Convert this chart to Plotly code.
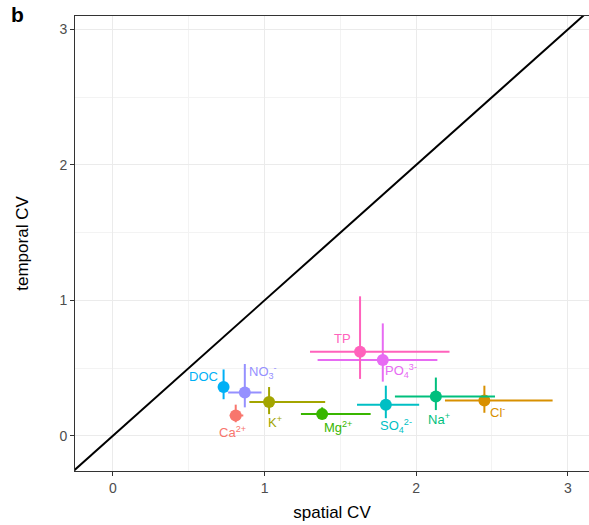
import plotly.graph_objects as go

# Coefficients of variation per solute: spatial (x) vs temporal (y), with ranges
labels = ["Ca<sup>2+</sup>", "Cl<sup>-</sup>", "DOC", "K<sup>+</sup>", "Mg<sup>2+</sup>",
          "Na<sup>+</sup>", "NO<sub>3</sub><sup>-</sup>", "PO<sub>4</sub><sup>3-</sup>",
          "SO<sub>4</sub><sup>2-</sup>", "TP"]
spatial = [0.81, 2.45, 0.73, 1.03, 1.38, 2.13, 0.87, 1.78, 1.80, 1.63]
spatial_lo = [0.77, 2.19, 0.70, 0.90, 1.24, 1.86, 0.76, 1.35, 1.61, 1.30]
spatial_hi = [0.86, 2.90, 0.76, 1.40, 1.70, 2.52, 0.98, 2.14, 2.02, 2.22]
temporal = [0.15, 0.26, 0.36, 0.25, 0.16, 0.29, 0.32, 0.56, 0.23, 0.62]
temporal_lo = [0.10, 0.17, 0.27, 0.16, 0.13, 0.19, 0.21, 0.40, 0.13, 0.42]
temporal_hi = [0.23, 0.37, 0.49, 0.36, 0.21, 0.43, 0.53, 0.83, 0.37, 1.03]
colors = ["#F8766D", "#D89000", "#00B0F6", "#A3A500", "#39B600",
          "#00BF7D", "#9590FF", "#E76BF3", "#00BFC4", "#FF62BC"]

# label offsets in pixels from each point
label_dx = [-3, 13, -20, 6, 16, 3, 18, 18, 10, -18]
label_dy = [-17, -11, 11, -20, -13, -22, 20, -11, -21, 13]

tick_vals = [0, 1, 2, 3]
font_family = "Liberation Sans, Arial, sans-serif"

fig = go.Figure()

# 1:1 reference line
fig.add_trace(go.Scatter(x=[-1, 4], y=[-1, 4], mode="lines",
                         line=dict(color="black", width=2), showlegend=False,
                         hoverinfo="skip"))

for i, lab in enumerate(labels):
    fig.add_trace(go.Scatter(
        x=[spatial[i]], y=[temporal[i]], mode="markers",
        marker=dict(color=colors[i], size=12),
        error_x=dict(type="data", symmetric=False,
                     array=[spatial_hi[i] - spatial[i]],
                     arrayminus=[spatial[i] - spatial_lo[i]],
                     color=colors[i], thickness=2, width=0),
        error_y=dict(type="data", symmetric=False,
                     array=[temporal_hi[i] - temporal[i]],
                     arrayminus=[temporal[i] - temporal_lo[i]],
                     color=colors[i], thickness=2, width=0),
        showlegend=False, name=lab))
    fig.add_annotation(x=spatial[i], y=temporal[i], text=lab, showarrow=False,
                       xshift=label_dx[i], yshift=label_dy[i],
                       font=dict(size=13, color=colors[i], family=font_family))

# panel tag in the top-left corner
fig.add_annotation(x=0, y=1, xref="paper", yref="paper", text="<b>b</b>",
                   showarrow=False, xanchor="left", yanchor="top",
                   xshift=-66, yshift=15,
                   font=dict(size=21, color="black", family=font_family))

axis_common = dict(
    tickvals=tick_vals, ticks="outside", ticklen=4, tickcolor="#333333",
    tickfont=dict(size=14, color="#4D4D4D", family=font_family),
    showline=True, linecolor="#333333", linewidth=1, mirror=True,
    showgrid=True, gridcolor="#EBEBEB", gridwidth=1.3, zeroline=False,
    minor=dict(dtick=0.5, tick0=0, showgrid=True, gridcolor="#F3F3F3", gridwidth=0.7),
)

fig.update_layout(
    width=589, height=525,
    margin=dict(l=75, r=0, t=16, b=54),
    plot_bgcolor="white", paper_bgcolor="white",
    font=dict(family=font_family),
    xaxis=dict(range=[-0.25, 3.14],
               title=dict(text="spatial CV", font=dict(size=17, color="black"), standoff=11),
               **axis_common),
    yaxis=dict(range=[-0.26, 3.1],
               title=dict(text="temporal CV", font=dict(size=17, color="black"), standoff=26),
               **axis_common),
)

fig.write_html("out.html")
